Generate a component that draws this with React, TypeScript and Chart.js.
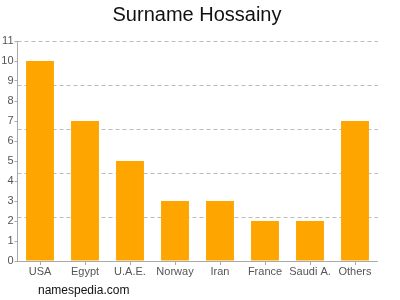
import React, { useEffect, useRef } from "react";
import { Chart, registerables } from "chart.js";

Chart.register(...registerables);

const categories = ["USA", "Egypt", "U.A.E.", "Norway", "Iran", "France", "Saudi A.", "Others"];
const counts = [10, 7, 5, 3, 3, 2, 2, 7];
const yTickValues = [0, 1, 2, 3, 4, 5, 6, 7, 8, 9, 10, 11];
const gridValues = [2.2, 4.4, 6.6, 8.8, 11];
const titleText = "Surname Hossainy";
const footerText = "namespedia.com";

const FONT = "'Liberation Sans', Arial, sans-serif";

export default function App() {
  const ref = useRef<HTMLCanvasElement>(null);
  useEffect(() => {
    document.body.style.margin = "0";
    const canvas = ref.current!;
    const textPlugin = {
      id: "texts",
      afterDraw(chart: any) {
        const ctx = chart.ctx;
        ctx.save();
        ctx.fillStyle = "#111";
        ctx.font = `20px ${FONT}`;
        ctx.textAlign = "center";
        ctx.textBaseline = "middle";
        ctx.fillText(titleText, 197, 15);
        ctx.font = `12px ${FONT}`;
        ctx.textAlign = "left";
        ctx.fillText(footerText, 38, 291);
        ctx.restore();
      },
    };
    const chart = new Chart(canvas, {
      type: "bar",
      data: {
        labels: categories,
        datasets: [
          {
            data: counts,
            backgroundColor: "#ffa500",
            barPercentage: 0.62,
            categoryPercentage: 1,
            yAxisID: "y",
          },
        ],
      },
      options: {
        responsive: false,
        animation: false,
        layout: { padding: { top: 41, right: 22.5, bottom: 0, left: 0 } },
        plugins: {
          legend: { display: false },
          title: { display: false },
          tooltip: { enabled: false },
        },
        scales: {
          x: {
            grid: {
              offset: false,
              drawOnChartArea: false,
              drawTicks: true,
              tickLength: 4,
              color: "#aaa",
            },
            border: { display: true, color: "#aaa" },
            ticks: {
              color: "#555",
              font: { family: FONT, size: 11 },
              padding: 0,
              maxRotation: 0,
              autoSkip: false,
            },
            afterFit(scale: any) {
              scale.height = 39;
            },
          },
          y: {
            min: 0,
            max: 11,
            afterBuildTicks(scale: any) {
              scale.ticks = yTickValues.map((v) => ({ value: v }));
            },
            grid: {
              drawOnChartArea: false,
              drawTicks: true,
              tickLength: 3,
              color: "#aaa",
            },
            border: { display: true, color: "#aaa" },
            ticks: {
              color: "#555",
              font: { family: FONT, size: 11 },
              padding: 1,
            },
            afterFit(scale: any) {
              scale.width = 17.5;
            },
          },
          y2: {
            position: "right",
            min: 0,
            max: 11,
            afterBuildTicks(scale: any) {
              scale.ticks = gridValues.map((v) => ({ value: v }));
            },
            grid: {
              drawOnChartArea: true,
              drawTicks: false,
              color: "#bbb",
            },
            border: { display: false, dash: [4, 3] },
            ticks: { display: false },
            afterFit(scale: any) {
              scale.width = 0;
            },
          } as any,
        },
      },
      plugins: [textPlugin],
    });
    return () => chart.destroy();
  }, []);
  return <canvas ref={ref} width={400} height={300} style={{ display: "block" }} />;
}
